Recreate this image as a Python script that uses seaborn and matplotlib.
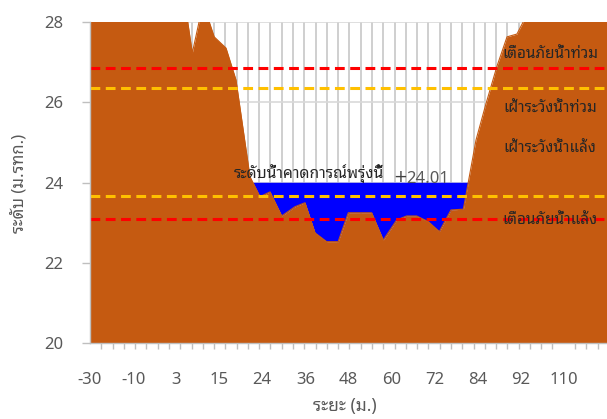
import numpy as np
import matplotlib
matplotlib.use("Agg")
import matplotlib.pyplot as plt
import seaborn as sns

# ---- data ----
# profile positions (axis position units, one per tick) and ground elevation (m. MSL)
pos = [0, 8.0, 9.07, 9.9, 10.3, 11.01, 12.06, 12.94, 14.18, 15.07, 15.96, 17.0,
       18.17, 19.06, 19.95, 20.98, 22.0, 22.9, 24.97, 26.0, 27.19, 28.07, 28.96,
       29.99, 30.97, 32.0, 33.1, 34.22, 35.1, 36.08, 36.97, 37.85, 38.4, 39.0, 46.0]
elev = [29.5, 29.26, 27.23, 28.30, 28.23, 27.63, 27.35, 26.56, 24.15, 23.65, 23.77,
        23.17, 23.40, 23.50, 22.75, 22.53, 22.53, 23.25, 23.25, 22.57, 23.07, 23.17,
        23.17, 23.03, 22.78, 23.32, 23.34, 25.06, 25.96, 26.90, 27.63, 27.70, 28.0,
        28.5, 29.0]
forecast_level = 24.01
forecast_label = "ระดับน้ำคาดการณ์พรุ่งนี้"

thresholds = [26.86, 26.36, 23.67, 23.10]
threshold_colors = ["#FF0000", "#FFC000", "#FFC000", "#FF0000"]
threshold_names = ["เตือนภัยน้ำท่วม", "เฝ้าระวังน้ำท่วม", "เฝ้าระวังน้ำแล้ง", "เตือนภัยน้ำแล้ง"]
name_y = [27.18, 25.83, 24.84, 23.07]

xtick_labels = ["-30", "-10", "3", "15", "24", "36", "48", "60", "72", "84", "92", "110"]
yticks = [20, 22, 24, 26, 28]

sns.set_theme(style="white")
THAI = ["Noto Sans Thai Looped", "DejaVu Sans"]
plt.rcParams["font.family"] = THAI

GREY = "#595959"
GROUND = "#C55A11"

fig = plt.figure(figsize=(6.07, 4.19), dpi=100)
ax = fig.add_axes([90 / 607, 1 - 343.3 / 419, 1 - 90 / 607, (343.3 - 22) / 419])

df_x = np.array(pos)
df_y = np.array(elev)

# water (forecast) fill
ax.fill_between(df_x, df_y, forecast_level, where=df_y < forecast_level,
                interpolate=True, color="#0000FF", lw=0, zorder=2)
# ground
ax.fill_between(df_x, 20, df_y, color=GROUND, lw=0, zorder=3)
sns.lineplot(x=df_x, y=df_y, color=GROUND, lw=0.8, ax=ax, zorder=3)

for t, c in zip(thresholds, threshold_colors):
    ax.axhline(t, color=c, lw=2.2, ls=(0, (3.2, 1.8)), zorder=4)

for name, y in zip(threshold_names, name_y):
    ax.text(40.8, y, name, ha="center", va="center", fontsize=11,
            color="#262626", zorder=5)

ax.text(12.75, 24.22, forecast_label, ha="left", va="center", fontsize=11.3,
        color="#262626", zorder=5)
ax.text(26.85, 24.15, "+", ha="left", va="center", fontsize=12, color="#404040",
        family=["DejaVu Sans"], zorder=5)
ax.text(28.05, 24.1, f"{forecast_level:.2f}", ha="left", va="center", fontsize=12,
        color=GREY, zorder=5)

ax.set_xlim(0, (607 - 90) / 11.28)
ax.set_ylim(20, 28)

ax.set_xticks(np.arange(0, 46, 1), minor=True)
ax.set_xticks(np.arange(12) * 42 / 11)
ax.set_xticklabels(xtick_labels)
ax.set_yticks(yticks)
ax.set_yticklabels([str(v) for v in yticks])

ax.grid(False)
for xv in np.arange(0, 46, 1):
    ax.axvline(xv, color="#CFCFCF", lw=1.4, zorder=1)
for yv in yticks:
    ax.axhline(yv, color="#D9D9D9", lw=1.2, zorder=1)

ax.tick_params(axis="x", which="major", length=0, pad=21, labelsize=12, labelcolor=GREY)
ax.tick_params(axis="x", which="minor", length=4, width=1, color="#BFBFBF",
               direction="out", bottom=True)
ax.tick_params(axis="y", length=6, width=1, color="#BFBFBF", pad=13, labelsize=12,
               labelcolor=GREY, left=True, direction="out")
for s in ["top", "right"]:
    ax.spines[s].set_visible(False)
for s in ["left", "bottom"]:
    ax.spines[s].set_color("#BFBFBF")
    ax.spines[s].set_linewidth(1)
    ax.spines[s].set_zorder(6)

ax.set_xlabel("ระยะ (ม.)", fontsize=12.5, fontweight="bold", color=GREY)
ax.set_ylabel("ระดับ (ม.รทก.)", fontsize=12, fontweight="bold", color=GREY)
ax.xaxis.label.set_va("center")
ax.yaxis.label.set_va("center")
ax.xaxis.set_label_coords((345 - 90) / 517, -(406 - 343.3) / 321.3)
ax.yaxis.set_label_coords(-(90 - 19) / 517, (343.3 - 183) / 321.3)

fig.savefig("out.png", dpi=100)
